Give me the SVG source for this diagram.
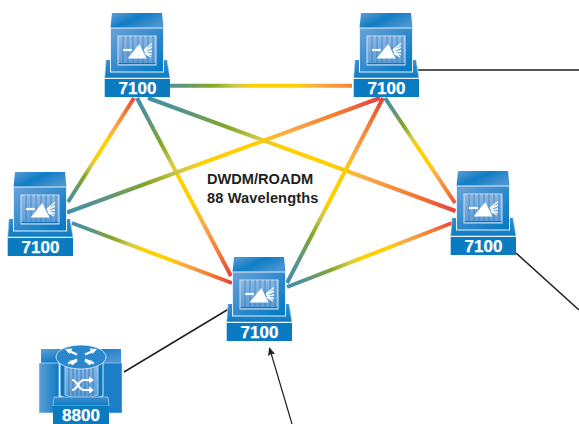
<svg xmlns="http://www.w3.org/2000/svg" xmlns:xlink="http://www.w3.org/1999/xlink" width="579" height="424" viewBox="0 0 579 424">
<style>
.lbl{font-family:"Liberation Sans",Arial,sans-serif;font-weight:700;fill:#fff;text-anchor:middle;stroke:#fff;stroke-width:.25}
.cap{font-family:"Liberation Sans",Arial,sans-serif;font-weight:700;font-size:14.6px;fill:#231f20}
.w{fill:none;stroke-width:4;stroke-linecap:butt}
.k{fill:none;stroke:#231f20;stroke-width:1.5}
</style>
<defs>
<linearGradient id="sp"><stop offset="0" stop-color="#3f8fa8"/><stop offset=".12" stop-color="#5a9485"/><stop offset=".26" stop-color="#86a823"/><stop offset=".36" stop-color="#cfc94e"/><stop offset=".43" stop-color="#ffd000"/><stop offset=".6" stop-color="#ffd000"/><stop offset=".7" stop-color="#fbab45"/><stop offset=".86" stop-color="#f47c32"/><stop offset="1" stop-color="#e5403f"/></linearGradient>
<linearGradient id="g1" xlink:href="#sp" gradientUnits="userSpaceOnUse" x1="150" y1="85.700" x2="390" y2="85.700"/>
<linearGradient id="g2" xlink:href="#sp" gradientUnits="userSpaceOnUse" x1="66" y1="205" x2="135" y2="97"/>
<linearGradient id="g3" xlink:href="#sp" gradientUnits="userSpaceOnUse" x1="137" y1="98" x2="232" y2="277"/>
<linearGradient id="g4" xlink:href="#sp" gradientUnits="userSpaceOnUse" x1="148" y1="98" x2="456" y2="211"/>
<linearGradient id="g5" xlink:href="#sp" gradientUnits="userSpaceOnUse" x1="67" y1="212" x2="381" y2="98"/>
<linearGradient id="g6" xlink:href="#sp" gradientUnits="userSpaceOnUse" x1="72" y1="223" x2="232" y2="283"/>
<linearGradient id="g7" xlink:href="#sp" gradientUnits="userSpaceOnUse" x1="287" y1="283" x2="383" y2="98"/>
<linearGradient id="g8" xlink:href="#sp" gradientUnits="userSpaceOnUse" x1="288" y1="287" x2="456" y2="221"/>
<linearGradient id="g9" xlink:href="#sp" gradientUnits="userSpaceOnUse" x1="385" y1="98" x2="458" y2="208"/>
<linearGradient id="box" x1="0" y1="0" x2="1" y2="1"><stop offset="0" stop-color="#6ca3d8"/><stop offset=".55" stop-color="#2b88cc"/><stop offset="1" stop-color="#0079c1"/></linearGradient>
<linearGradient id="top" x1="0" y1="0" x2="1" y2=".6"><stop offset="0" stop-color="#5f9dd6"/><stop offset=".5" stop-color="#0f7dc4"/><stop offset="1" stop-color="#4a94d2"/></linearGradient>
<linearGradient id="flare" x1="0" y1="0" x2="0" y2="1"><stop offset="0" stop-color="#3a8dcf"/><stop offset="1" stop-color="#0c7cc3"/></linearGradient>
<linearGradient id="scr" x1="0" y1="0" x2="0" y2="1"><stop offset="0" stop-color="#8db8e2"/><stop offset="1" stop-color="#5b9bd5"/></linearGradient>
<linearGradient id="side" x1="0" y1="0" x2="1" y2="0"><stop offset="0" stop-color="#5f9fd8"/><stop offset="1" stop-color="#0a7ac2"/></linearGradient>
<marker id="ah" viewBox="0 0 10 10" refX="9" refY="5" markerWidth="7" markerHeight="7" orient="auto"><path d="M0 0.5L10 5L0 9.5L2 5Z" fill="#231f20"/></marker>
<g id="sw">
<path d="M1-19H62L65-1H-.3Z" fill="url(#flare)"/>
<path d="M1-19L-.3-1H65L62-19" fill="none" stroke="#bcd8f0" stroke-width=".7"/>
<path d="M7-66H57L58.500-51H5.500Z" fill="url(#top)"/>
<rect x="5.500" y="-51" width="53" height="44" fill="url(#box)" stroke="#e4f0fa" stroke-width="1"/>
<rect x="13" y="-43" width="38" height="29" fill="url(#scr)" stroke="#cfe2f4" stroke-width="1"/>
<path d="M18-43V-15M23-43V-15M28-43V-15M33-43V-15M38-43V-15M43-43V-15M48-43V-15" stroke="#2a7cc0" stroke-width=".7" fill="none"/>
<path d="M13.500-15.500H50.500" stroke="#1a6fb6" stroke-width="1.200"/>
<path d="M34.300-35L41.500-20.500H22.500Z" fill="#fff"/>
<path d="M18-29H27" stroke="#fff" stroke-width="2.200"/>
<path d="M39-29L47-35.500M39-28L47-32M40-27L47-28M40-26L47-24.500M40-25.500L46-22" stroke="#fff" stroke-width="1.400" fill="none"/>
<rect x="-.3" y="0" width="65.300" height="18" fill="#0a7bc1"/>
</g>
</defs>
<rect width="579" height="424" fill="#fff"/>
<g id="connectors">
<path class="w" stroke="url(#g1)" d="M170 85.700H352"/>
<path class="w" stroke="url(#g2)" d="M134 98L68 202"/>
<path class="w" stroke="url(#g3)" d="M137 98L231 276"/>
<path class="w" stroke="url(#g4)" d="M148 98L455.500 211"/>
<path class="w" stroke="url(#g5)" d="M67 212.500L380 98"/>
<path class="w" stroke="url(#g6)" d="M72 223L232 283"/>
<path class="w" stroke="url(#g7)" d="M383 98L287 283"/>
<path class="w" stroke="url(#g8)" d="M287 287L452 223"/>
<path class="w" stroke="url(#g9)" d="M385 98L455 203"/>
<path class="k" d="M418 70H579"/>
<path class="k" d="M516 253L579 310"/>
<path class="k" d="M124 372L232 307"/>
<path class="k" style="stroke-width:1.200" d="M292 424L269.500 348" marker-end="url(#ah)"/>
</g>
<g id="node-tl"><use xlink:href="#sw" x="105" y="79"/><text class="lbl" font-size="17" x="137.500" y="94">7100</text></g>
<g id="node-tr"><use xlink:href="#sw" x="354" y="79"/><text class="lbl" font-size="17" x="386.500" y="94">7100</text></g>
<g id="node-l"><use xlink:href="#sw" x="8" y="238"/><text class="lbl" font-size="17" x="40.500" y="253">7100</text></g>
<g id="node-r"><use xlink:href="#sw" x="451" y="237"/><text class="lbl" font-size="17" x="483.500" y="252">7100</text></g>
<g id="node-b"><use xlink:href="#sw" x="227" y="323"/><text class="lbl" font-size="17" x="259.500" y="338">7100</text></g>
<g id="node-8800">
<path d="M41 349H121V363H41Z" fill="url(#top)"/>
<rect x="39" y="363" width="20" height="50" fill="url(#side)" stroke="#d5e6f5" stroke-width=".7"/>
<rect x="102" y="363" width="20" height="50" fill="#1a7fc6" stroke="#d5e6f5" stroke-width=".5"/>
<path d="M60 357V396Q81 405 103 396V357Z" fill="#0b79c0" stroke="#dbeaf7" stroke-width="1"/>
<path d="M65 364V395Q81 402 98 395V364Z" fill="url(#scr)" stroke="#dbeaf7" stroke-width=".7"/>
<path d="M69 367V397M73 367V398M77 367V399M81 367V399M85 367V399M89 367V398M93 367V397" stroke="#2a7cc0" stroke-width=".9"/>
<path d="M72 380C78 380 78 390 84 390H89M72 390C78 390 78 380 84 380H89" fill="none" stroke="#fff" stroke-width="2.200"/>
<path d="M89 376.500L94 380L89 383.500ZM89 386.500L94 390L89 393.500Z" fill="#fff"/>
<ellipse cx="81" cy="357" rx="25" ry="12" fill="#2a87cc" stroke="#e4f0fa" stroke-width=".8"/>
<path d="M68 350.500L77 354.500M94 350.500L85 354.500M68 363.500L77 359.500M94 363.500L85 359.500" stroke="#fff" stroke-width="2.200"/>
<path d="M65 349L72.500 348.500L69.500 354ZM97 349L89.500 348.500L92.500 354ZM78 361L72 365.500L69.500 360.500ZM84 361L90 365.500L92.500 360.500Z" fill="#fff"/>
<path d="M54 397H108L109 406H53Z" fill="url(#flare)" stroke="#d5e6f5" stroke-width=".6"/>
<rect x="53" y="406" width="56" height="18" fill="#0a7bc1"/>
<text class="lbl" font-size="17" x="81" y="421">8800</text>
</g>
<g id="title"><text class="cap" x="207" y="184">DWDM/ROADM</text><text class="cap" x="207" y="203" style="letter-spacing:.12px">88 Wavelengths</text></g>
</svg>
